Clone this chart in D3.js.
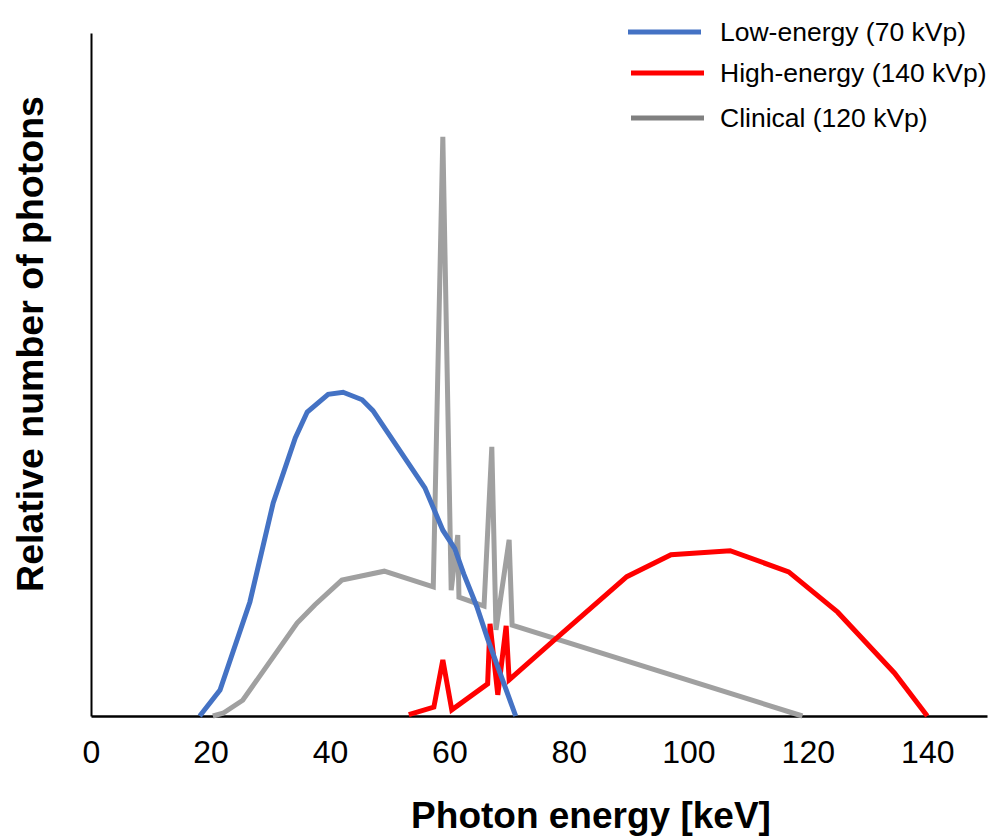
<!DOCTYPE html>
<html>
<head>
<meta charset="utf-8">
<script src="https://cdn.jsdelivr.net/npm/d3@7"></script>
<style>
  html, body { margin: 0; padding: 0; background: #ffffff; }
  svg { display: block; font-family: Arial, "Liberation Sans", Helvetica, sans-serif; }
</style>
</head>
<body>
<svg id="chart" width="988" height="836"></svg>
<script>
// Low-energy spectrum (70 kVp)
const lowEnergy = [18.2, 21.6, 26.6, 30.5, 34.2, 36.2, 39.7, 42.2, 45.4, 47.2, 55.9, 58.9, 60.9, 62.4, 64.6, 66.4, 71.1];
const lowCounts = [0, 3.8, 16.7, 31.2, 40.7, 44.5, 47.1, 47.4, 46.3, 44.7, 33.4, 27.2, 24.5, 20.8, 16.0, 11.3, 0];

// High-energy spectrum (140 kVp)
const highEnergy = [53.2, 57.4, 58.9, 60.4, 66.4, 66.8, 68.1, 69.5, 70.0, 77.4, 89.7, 97.1, 107.0, 116.8, 125.0, 134.5, 140.0];
const highCounts = [0.2, 1.3, 8.2, 0.9, 4.7, 13.5, 3.1, 13.2, 5.3, 11.0, 20.4, 23.6, 24.2, 21.1, 15.2, 6.3, 0];

// Clinical spectrum (120 kVp)
const clinEnergy = [20.4, 22.1, 25.4, 34.5, 37.5, 42.0, 49.1, 57.3, 58.9, 60.3, 61.4, 61.6, 65.8, 67.1, 67.8, 70.0, 70.5, 119.1];
const clinCounts = [0, 0.4, 2.3, 13.6, 16.3, 19.9, 21.2, 18.9, 84.8, 18.4, 26.5, 17.4, 16.1, 39.4, 12.6, 25.8, 13.3, 0];

const xTicks = [0, 20, 40, 60, 80, 100, 120, 140];
const seriesNames = ["Low-energy (70 kVp)", "High-energy (140 kVp)", "Clinical (120 kVp)"];
const xTitle = "Photon energy [keV]";
const yTitle = "Relative number of photons";

const svg = d3.select("#chart");

const x = d3.scaleLinear().domain([0, 150]).range([91, 987]);
const y = d3.scaleLinear().domain([0, 100]).range([716, 33]);

const series = [
  { name: seriesNames[0], e: lowEnergy, c: lowCounts, color: "#4472C4", legendColor: "#4472C4", width: 5 },
  { name: seriesNames[1], e: highEnergy, c: highCounts, color: "#FF0000", legendColor: "#FF0000", width: 5 },
  { name: seriesNames[2], e: clinEnergy, c: clinCounts, color: "#A0A0A0", legendColor: "#808080", width: 5 }
];

// Axes
const xAxis = svg.append("g")
  .attr("transform", `translate(0,${y(0)})`)
  .call(d3.axisBottom(x).tickValues(xTicks).tickSize(0).tickSizeOuter(0).tickPadding(24).tickFormat(d3.format("d")));
xAxis.select(".domain").attr("stroke", "#000").attr("stroke-width", 2.5);
xAxis.selectAll("text").attr("font-size", 32).attr("fill", "#000")
  .attr("font-family", "Arial, 'Liberation Sans', sans-serif");

const yAxis = svg.append("g")
  .attr("transform", `translate(${x(0)},0)`)
  .call(d3.axisLeft(y).tickValues([]).tickSize(0).tickSizeOuter(0));
yAxis.select(".domain").attr("stroke", "#000").attr("stroke-width", 2);

// Spectra: clinical underneath, then high, then low on top
const line = d3.line().x(d => x(d[0])).y(d => y(d[1]));
const drawOrder = [series[2], series[1], series[0]];
drawOrder.forEach(s => {
  const pts = s.e.map((v, i) => [v, s.c[i]]);
  svg.append("path")
    .datum(pts)
    .attr("d", line)
    .attr("fill", "none")
    .attr("stroke", s.color)
    .attr("stroke-width", s.width)
    .attr("stroke-linejoin", "miter")
    .attr("stroke-miterlimit", 3);
});

// Legend
const legendRows = [32, 73, 118];
const legend = svg.append("g");
series.forEach((s, i) => {
  const g = legend.append("g").attr("transform", `translate(0,${legendRows[i]})`);
  g.append("line")
    .attr("x1", i === 0 ? 628 : 631).attr("x2", i === 0 ? 701 : 704)
    .attr("y1", 0).attr("y2", 0)
    .attr("stroke", s.legendColor).attr("stroke-width", 5);
  g.append("text")
    .attr("x", 720).attr("y", 0).attr("dy", "0.35em")
    .attr("font-size", 26.5).attr("fill", "#000")
    .text(s.name);
});

// Axis titles
svg.append("text")
  .attr("x", 591).attr("y", 828)
  .attr("text-anchor", "middle")
  .attr("font-size", 37).attr("font-weight", "bold").attr("fill", "#000")
  .text(xTitle);

svg.append("text")
  .attr("transform", "translate(43,344) rotate(-90)")
  .attr("text-anchor", "middle")
  .attr("font-size", 37.5).attr("font-weight", "bold").attr("fill", "#000")
  .text(yTitle);
</script>
</body>
</html>
